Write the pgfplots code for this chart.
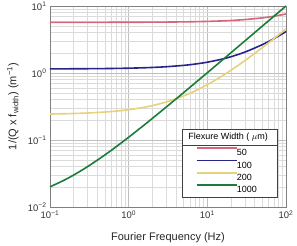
\documentclass[border=0pt]{standalone}
\usepackage{pgfplots}
\pgfplotsset{compat=1.18}
\usepackage{fontspec}
\setmainfont{Liberation Sans}
\definecolor{cRed}{RGB}{214,102,122}
\definecolor{cBlue}{RGB}{40,36,140}
\definecolor{cYel}{RGB}{230,210,122}
\definecolor{cGrn}{RGB}{28,125,58}
\begin{document}
\begin{tikzpicture}
\path[use as bounding box] (-50bp,-39bp) rectangle (247bp,207bp);
\begin{axis}[
  at={(0,0)}, anchor=south west, scale only axis,
  width=236bp, height=201bp,
  xmode=log, ymode=log,
  xmin=0.1, xmax=100, ymin=0.01, ymax=10,
  grid=both,
  major grid style={draw=gray!50, line width=0.6bp},
  minor grid style={draw=gray!28, line width=0.6bp},
  axis line style={draw=gray, line width=0.8bp},
  major tick length=0pt, minor tick length=0pt,
  xtick={0.1,1,10,100},
  xticklabels={10\textsuperscript{−1},10\textsuperscript{0},10\textsuperscript{1},10\textsuperscript{2}},
  ytick={0.01,0.1,1,10},
  yticklabels={10\textsuperscript{−2},10\textsuperscript{−1},10\textsuperscript{0},10\textsuperscript{1}},
  ticklabel style={font=\fontsize{9.5bp}{11bp}\selectfont, text=black!80},
  xlabel={Fourier Frequency (Hz)},
  ylabel={1/(Q x f\textsubscript{width}) (m\textsuperscript{−1})},
  label style={font=\fontsize{11bp}{13bp}\selectfont, text=black!85},
  xlabel style={at={(axis description cs:0.5,-0.153)}, anchor=center},
  ylabel style={at={(axis description cs:-0.157,0.5)}, anchor=center},
  legend style={at={(rel axis cs:0.6216,0.2886)}, anchor=north west,
    draw=none, fill=none, inner sep=0pt, row sep=5.9bp,
    /tikz/every even column/.append style={column sep=2bp},
    nodes={inner sep=0pt, font=\fontsize{9bp}{10bp}\selectfont, text height=6.5bp, text depth=0bp, anchor=west}},
  legend cell align=left,
  legend image code/.code={\draw[#1, line width=1.6bp, transform canvas={yshift=1.5bp}] (0bp,3bp) -- (40bp,3bp);},
]
\addplot[cRed, line width=1.6bp, smooth] coordinates {
(0.1,5.702) (0.2,5.704) (0.5,5.71) (1,5.719) (2,5.738) (3,5.757) (5,5.795) (7,5.833)
(10,5.89) (15,5.985) (20,6.08) (30,6.27) (50,6.65) (70,7.03) (100,7.6)};
\addlegendentry{50}
\addplot[cBlue, line width=1.6bp, smooth] coordinates {
(0.1,1.153) (0.15,1.1545) (0.2,1.156) (0.3,1.159) (0.5,1.165) (0.7,1.171) (1,1.18)
(1.5,1.195) (2,1.21) (3,1.24) (5,1.30) (7,1.36) (10,1.45) (15,1.60) (20,1.75)
(30,2.05) (50,2.65) (70,3.25) (100,4.15)};
\addlegendentry{100}
\addplot[cYel, line width=1.6bp, smooth] coordinates {
(0.1,0.2443) (0.15,0.2465) (0.2,0.2486) (0.3,0.2529) (0.5,0.2615) (0.7,0.2701)
(1,0.283) (1.5,0.3045) (2,0.326) (3,0.369) (5,0.455) (7,0.541) (10,0.67)
(15,0.885) (20,1.10) (30,1.53) (50,2.39) (70,3.25) (100,4.54)};
\addlegendentry{200}
\addplot[cGrn, line width=1.6bp, smooth] coordinates {
(0.1,0.02) (0.15,0.025) (0.2,0.03) (0.3,0.04) (0.5,0.06) (0.7,0.08) (1,0.11)
(1.5,0.16) (2,0.21) (3,0.31) (5,0.51) (7,0.71) (10,1.01) (15,1.51) (20,2.01)
(30,3.01) (50,5.01) (70,7.01) (100,10.01)};
\addlegendentry{1000}
\draw[black!75, fill=white, line width=0.7bp] (rel axis cs:0.5593,0.0498) rectangle (rel axis cs:0.9619,0.3881);
\draw[black!75, line width=0.7bp] (rel axis cs:0.5593,0.3085) -- (rel axis cs:0.9619,0.3085);
\node[font=\fontsize{9bp}{10bp}\selectfont, anchor=center] at (rel axis cs:0.755,0.347) {Flexure Width ( $\mu$m)};
\end{axis}
\end{tikzpicture}
\end{document}
